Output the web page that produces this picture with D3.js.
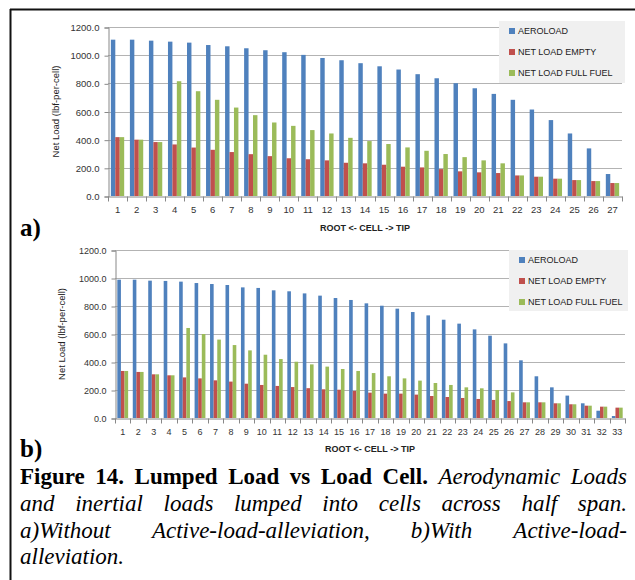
<!DOCTYPE html>
<html>
<head>
<meta charset="utf-8">
<script src="https://cdn.jsdelivr.net/npm/d3@7"></script>
<style>
  body { margin: 0; background: #fff; }
  svg { display: block; }
</style>
</head>
<body>
<div id="fig"></div>
<script>
// chart a) without active load alleviation
var cellsA = [1,2,3,4,5,6,7,8,9,10,11,12,13,14,15,16,17,18,19,20,21,22,23,24,25,26,27];
var aeroA  = [1110,1110,1103,1096,1089,1072,1063,1049,1035,1021,1002,980,964,943,921,898,865,836,801,765,725,683,614,539,444,338,156];
var emptyA = [418,400,383,366,344,328,312,297,283,268,261,253,236,232,222,208,203,191,175,168,163,146,137,123,113,106,92];
var fullA  = [418,400,383,815,744,683,628,574,522,498,468,444,413,390,369,345,321,298,276,253,232,146,137,123,113,106,92];

// chart b) with active load alleviation
var cellsB = [1,2,3,4,5,6,7,8,9,10,11,12,13,14,15,16,17,18,19,20,21,22,23,24,25,26,27,28,29,30,31,32,33];
var aeroB  = [988,988,981,979,974,964,957,950,933,929,912,905,890,874,857,843,819,802,781,757,733,702,674,633,588,533,412,298,219,160,105,52,14];
var emptyB = [336,329,312,305,290,283,269,260,245,236,229,221,213,205,202,193,181,174,174,167,157,150,143,136,129,121,112,112,105,98,88,81,74];
var fullB  = [336,329,312,305,643,600,560,521,483,452,421,402,383,367,350,336,321,298,283,267,250,236,219,212,200,183,112,112,105,98,88,81,74];

var seriesNames = ["AEROLOAD", "NET LOAD EMPTY", "NET LOAD FULL FUEL"];
var seriesColors = ["#4f81bd", "#c0504d", "#9bbb59"];
var yTicks = [0, 200, 400, 600, 800, 1000, 1200];

var W = 635, H = 580;
var svg = d3.select("#fig").append("svg").attr("width", W).attr("height", H);

// frame (top + left rule)
svg.append("line").attr("x1", 10).attr("x2", W).attr("y1", 9.5).attr("y2", 9.5)
  .attr("stroke", "#111").attr("stroke-width", 2);
svg.append("line").attr("x1", 10.5).attr("x2", 10.5).attr("y1", 9).attr("y2", H)
  .attr("stroke", "#111").attr("stroke-width", 2);

function drawChart(cfg) {
  var g = svg.append("g");
  var rows = cfg.cells.map(function(c, i) {
    return { cell: c, vals: [cfg.aero[i], cfg.empty[i], cfg.full[i]] };
  });

  var x = d3.scaleBand().domain(cfg.cells).range([cfg.left, cfg.right]).padding(0);
  var step = x.step();
  var x1 = d3.scaleBand().domain([0, 1, 2]).range([step * 0.15, step * 0.85]).padding(0);
  var y = d3.scaleLinear().domain([0, 1200]).range([cfg.bottom, cfg.top]);

  // grid lines
  g.selectAll(".grid").data(yTicks.slice(1)).join("line")
    .attr("x1", cfg.left).attr("x2", cfg.right)
    .attr("y1", function(d) { return Math.round(y(d)) + 0.5; })
    .attr("y2", function(d) { return Math.round(y(d)) + 0.5; })
    .attr("stroke", "#b3b3b3");

  // bars
  var groups = g.selectAll(".cell").data(rows).join("g")
    .attr("transform", function(d) { return "translate(" + x(d.cell) + ",0)"; });
  groups.selectAll("rect").data(function(d) { return d.vals; }).join("rect")
    .attr("x", function(d, i) { return x1(i); })
    .attr("width", x1.bandwidth())
    .attr("y", function(d) { return y(d); })
    .attr("height", function(d) { return cfg.bottom - y(d); })
    .attr("fill", function(d, i) { return seriesColors[i]; });

  // y axis
  var ya = g.append("g").attr("transform", "translate(" + (cfg.left + 0.5) + ",0.5)")
    .call(d3.axisLeft(y).tickValues(yTicks).tickSize(4).tickPadding(5)
      .tickFormat(function(d) { return d3.format(".1f")(d); }));
  ya.select(".domain").attr("stroke", "#888");
  ya.selectAll(".tick line").attr("stroke", "#888");
  ya.selectAll("text").attr("font-family", "Liberation Sans, Arial, sans-serif")
    .attr("font-size", cfg.fs).attr("fill", "#333");

  // x axis, labels under centres, ticks at band edges
  var xa = g.append("g").attr("transform", "translate(0," + (cfg.bottom + 0.5) + ")")
    .call(d3.axisBottom(x).tickSize(0).tickPadding(cfg.xPad));
  xa.select(".domain").attr("stroke", "#888");
  xa.selectAll("text").attr("font-family", "Liberation Sans, Arial, sans-serif")
    .attr("font-size", cfg.fs).attr("fill", "#333");
  xa.selectAll(".edge").data(cfg.cells.concat(["end"])).join("line")
    .attr("x1", function(d) { return Math.round(d === "end" ? cfg.right : x(d)) + 0.5; })
    .attr("x2", function(d) { return Math.round(d === "end" ? cfg.right : x(d)) + 0.5; })
    .attr("y1", 0).attr("y2", 5).attr("stroke", "#888");

  // axis titles
  g.append("text")
    .attr("x", (cfg.left + cfg.right) / 2).attr("y", cfg.xTitleY)
    .attr("text-anchor", "middle")
    .attr("font-family", "Liberation Sans, Arial, sans-serif")
    .attr("font-size", 9).attr("font-weight", "bold").attr("fill", "#222")
    .text("ROOT <- CELL -> TIP");
  g.append("text")
    .attr("transform", "translate(" + cfg.yTitleX + "," + ((cfg.top + cfg.bottom) / 2) + ") rotate(-90)")
    .attr("text-anchor", "middle").attr("dy", "0.35em")
    .attr("font-family", "Liberation Sans, Arial, sans-serif")
    .attr("font-size", 9.5).attr("fill", "#222")
    .text("Net Load (lbf-per-cell)");

  // legend
  var lg = g.append("g").attr("transform", "translate(" + cfg.legend[0] + "," + cfg.legend[1] + ")");
  lg.append("rect").attr("width", cfg.legend[2]).attr("height", cfg.legend[3]).attr("fill", "#f0f0f0");
  var items = lg.selectAll(".item").data(seriesNames).join("g")
    .attr("transform", function(d, i) { return "translate(10," + (10 + i * 21) + ")"; });
  items.append("rect").attr("x", 0).attr("y", -3).attr("width", 6).attr("height", 6)
    .attr("fill", function(d, i) { return seriesColors[i]; });
  items.append("text").attr("x", 9).attr("dy", "0.35em")
    .attr("font-family", "Liberation Sans, Arial, sans-serif")
    .attr("font-size", 9).attr("fill", "#222")
    .text(function(d) { return d; });

  // panel letter
  svg.append("text").attr("x", 20).attr("y", cfg.letterY)
    .attr("font-family", "Liberation Serif, Times New Roman, serif")
    .attr("font-size", 25).attr("font-weight", "bold")
    .text(cfg.letter);
}

drawChart({
  cells: cellsA, aero: aeroA, empty: emptyA, full: fullA,
  left: 108, right: 622, top: 27, bottom: 196, fs: 9.5, xPad: 10,
  xTitleY: 231, yTitleX: 56, legend: [499, 21, 126, 62], letter: "a)", letterY: 236
});
drawChart({
  cells: cellsB, aero: aeroB, empty: emptyB, full: fullB,
  left: 115, right: 625, top: 250, bottom: 418, fs: 9, xPad: 10,
  xTitleY: 452, yTitleX: 62, legend: [509, 250, 119, 61], letter: "b)", letterY: 457
});

// caption, justified lines
var capLines = [
  [["Figure", "b"], ["14.", "b"], ["Lumped", "b"], ["Load", "b"], ["vs", "b"], ["Load", "b"], ["Cell.", "b"], ["Aerodynamic", "i"], ["Loads", "i"]],
  [["and", "i"], ["inertial", "i"], ["loads", "i"], ["lumped", "i"], ["into", "i"], ["cells", "i"], ["across", "i"], ["half", "i"], ["span.", "i"]],
  [["a)Without", "i"], ["Active-load-alleviation,", "i"], ["b)With", "i"], ["Active-load-", "i"]],
  [["alleviation.", "i"]]
];
var capBase = [484, 511, 538, 564];
var capLeft = 20, capRight = 627;

capLines.forEach(function(words, li) {
  var nodes = words.map(function(w) {
    return svg.append("text").attr("y", capBase[li])
      .attr("font-family", "Liberation Serif, Times New Roman, serif")
      .attr("font-size", 23)
      .attr("font-weight", w[1] === "b" ? "bold" : "normal")
      .attr("font-style", w[1] === "i" ? "italic" : "normal")
      .attr("fill", "#000")
      .text(w[0]);
  });
  var widths = nodes.map(function(n) { return n.node().getComputedTextLength(); });
  var total = d3.sum(widths);
  var last = li === capLines.length - 1;
  var gap = (!last && nodes.length > 1) ? (capRight - capLeft - total) / (nodes.length - 1) : 5.5;
  var cx = capLeft;
  nodes.forEach(function(n, i) { n.attr("x", cx); cx += widths[i] + gap; });
});
</script>
</body>
</html>
